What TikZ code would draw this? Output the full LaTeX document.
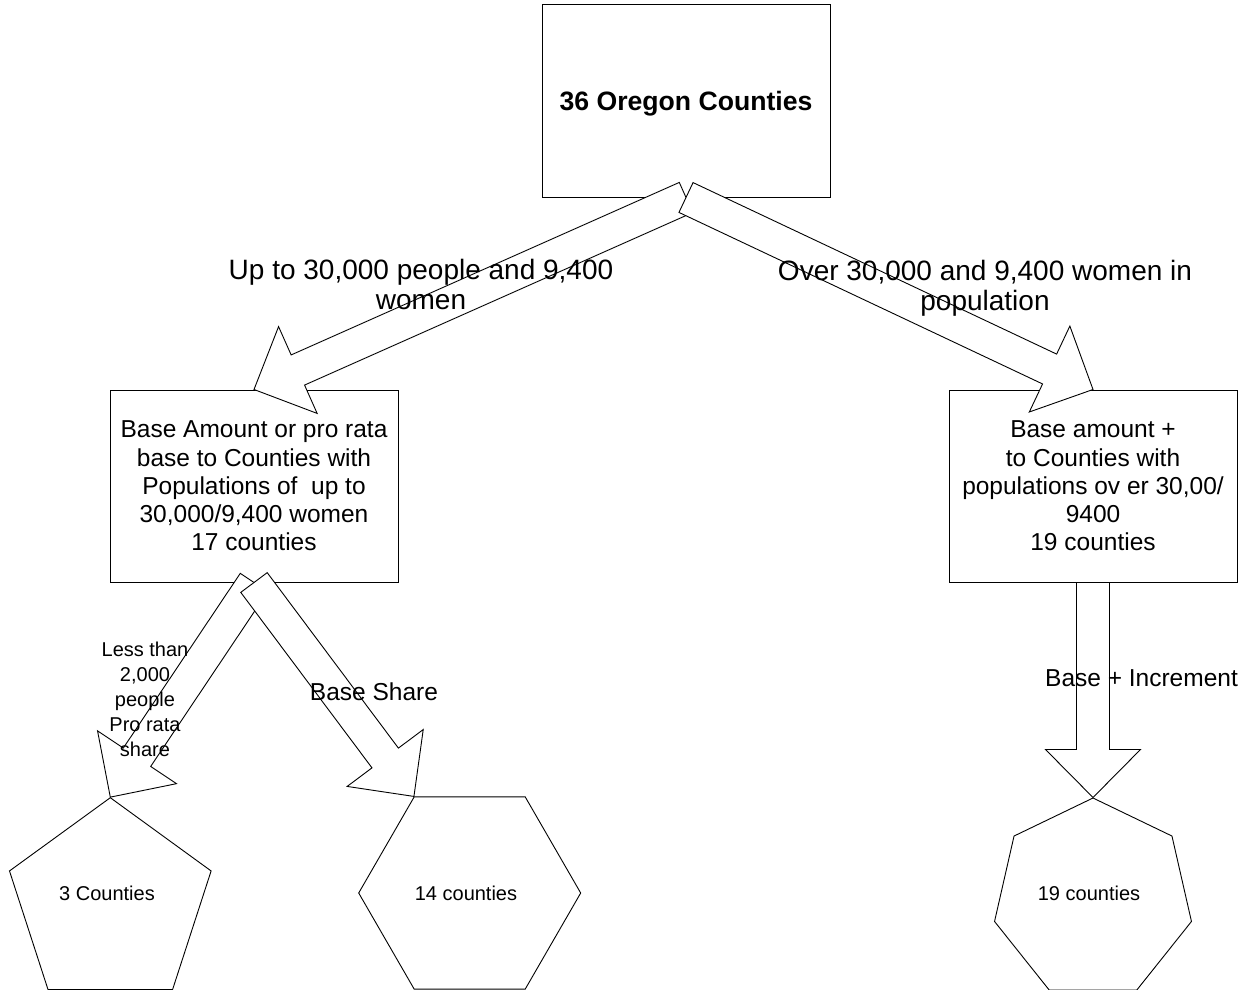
\documentclass[tikz,border=0pt]{standalone}
\usepackage{fontspec}
\setmainfont{Liberation Sans}
\usetikzlibrary{calc,shapes.geometric}

\tikzset{
  box/.style={draw=black, line width=1pt, fill=white, minimum width=288pt, minimum height=192pt,
              inner sep=0pt, align=center, font=\fontsize{24.5}{28.3}\selectfont},
  poly/.style={draw=black, line width=0.9pt, regular polygon, inner sep=0pt},
  blockarrow/.style={draw=black, fill=white, line width=0.9pt, line join=miter},
  biglabel/.style={font=\fontsize{28}{30.5}\selectfont, align=center, inner sep=0pt},
  midlabel/.style={font=\fontsize{24.5}{28}\selectfont, inner sep=0pt},
  smalllabel/.style={font=\fontsize{20}{25}\selectfont, align=center, inner sep=0pt},
}

\newcommand{\blockarr}[2]{%
  \coordinate (bah) at ($(#2)!48pt!(#1)$);
  \draw[blockarrow] ($(#1)!16.5pt!90:(#2)$) -- ($(bah)!16.5pt!90:(#2)$)
     -- ($(bah)!47.5pt!90:(#2)$) -- (#2) -- ($(bah)!47.5pt!-90:(#2)$)
     -- ($(bah)!16.5pt!-90:(#2)$) -- ($(#1)!16.5pt!-90:(#2)$) -- cycle;
}

\begin{document}
\begin{tikzpicture}[x=1pt,y=-1pt]
  \useasboundingbox[fill=white] (0,0) rectangle (1248,990);

  % boxes
  \node[box, font=\fontsize{26.6}{30}\selectfont\bfseries, text height=19pt, text depth=0pt] (top) at (686,101) {36 Oregon Counties};
  \node[box] (left) at (254,486) {Base Amount or pro rata\\base to Counties with\\Populations of~ up to\\30,000/9,400 women\\17 counties};
  \node[box] (right) at (1093,486) {Base amount +\\to Counties with\\populations ov er 30,00/\\9400\\19 counties};

  % polygons
  \node[poly, regular polygon sides=5, minimum size=212pt] (pent) at (110.3,903.7) {};
  \node[poly, regular polygon sides=6, minimum size=222pt] (hex) at (469.7,893) {};
  \node[poly, regular polygon sides=7, minimum size=202pt] (hept) at (1093,899) {};

  % block arrows
  \blockarr{top.south}{left.north}
  \blockarr{top.south}{right.north}
  \blockarr{left.south}{pent.90}
  \blockarr{left.south}{hex.120}
  \blockarr{right.south}{hept.90}

  % labels
  \node[biglabel, anchor=north] (l1) at (421,259) {Up to 30,000 people and 9,400\\women};
  \node[biglabel, anchor=north] (l2) at (985,260) {Over 30,000 and 9,400 women in\\population};
  \node[smalllabel, anchor=north] (l3) at (145,641.5) {Less than\\2,000\\people\\Pro rata\\share};
  \node[midlabel, anchor=base] (l4) at (374,700) {Base Share};
  \node[midlabel, anchor=base] (l5) at (1141.5,686) {Base + Increment};

  \node[smalllabel] (t1) at (107,893) {3 Counties};
  \node[smalllabel] (t2) at (466,893) {14 counties};
  \node[smalllabel] (t3) at (1089,893) {19 counties};
\end{tikzpicture}
\end{document}
